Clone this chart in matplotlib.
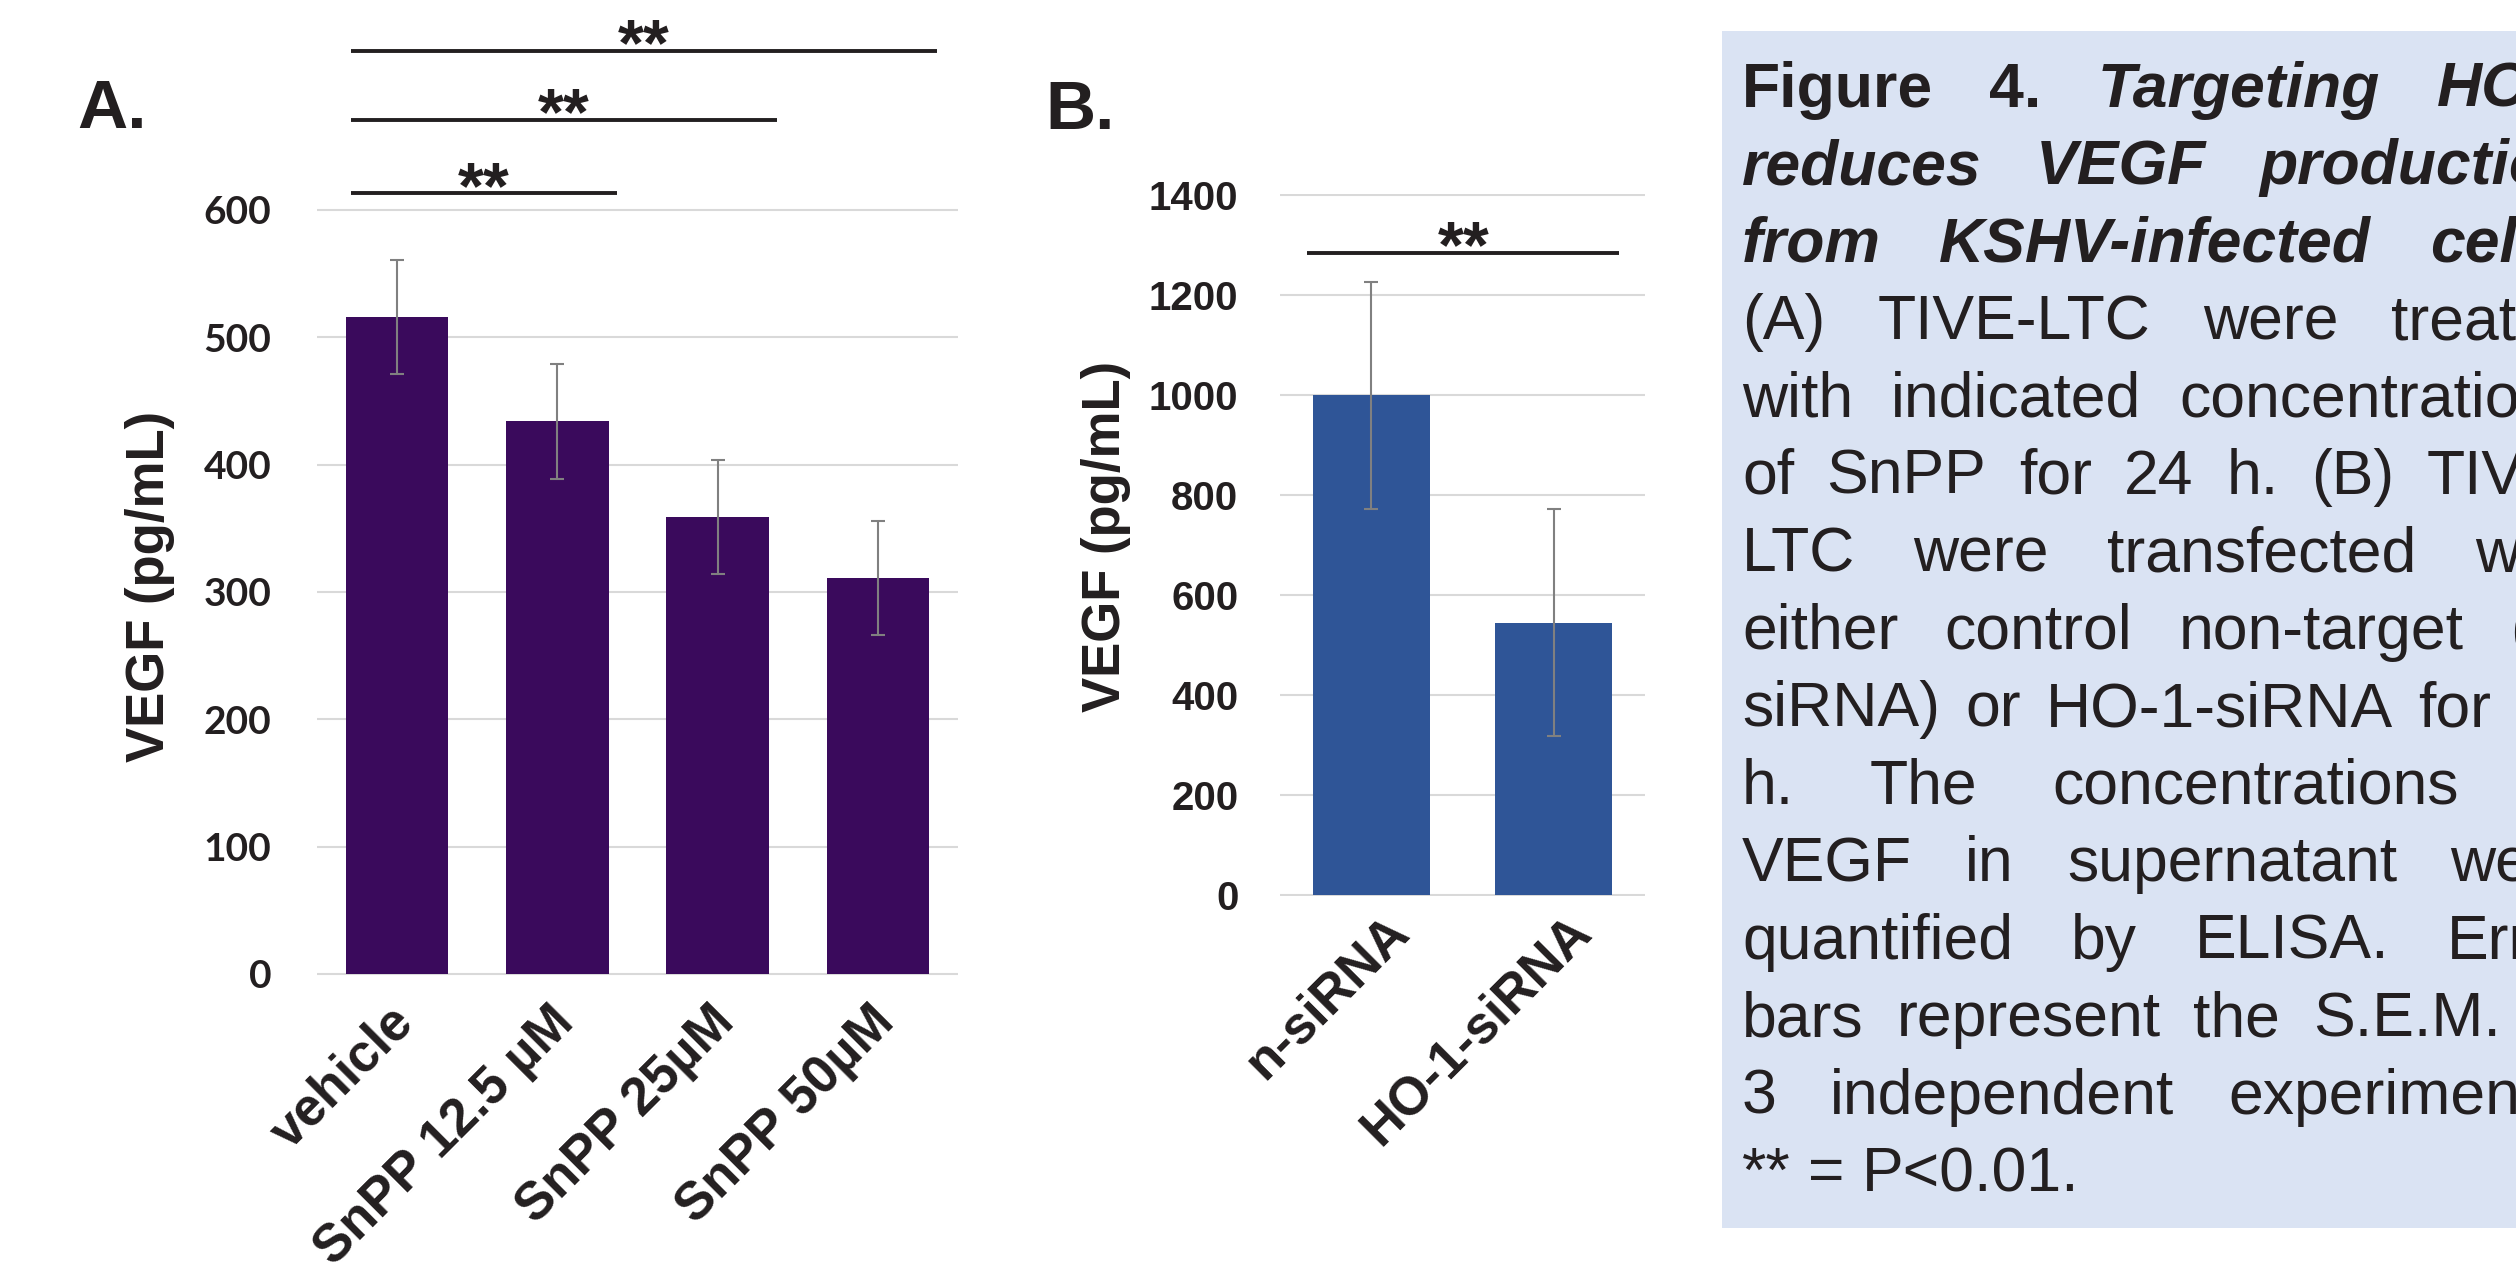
import numpy as np
import matplotlib.pyplot as plt
import matplotlib.transforms as mtransforms
from matplotlib.patches import Rectangle

# Figure size in pixels (saved at 100 dpi)
W, H = 2516, 1271
DPI = 100

# Panel A: SnPP treatment
a_labels = ['vehicle', 'SnPP 12.5 µM', 'SnPP 25µM', 'SnPP 50µM']
a_vegf = [516, 434, 359, 311]
a_sem = [45, 45, 45, 45]
a_pairs = [(0, 1), (0, 2), (0, 3)]
a_pair_y = [613, 671, 725]
a_ticks = [0, 100, 200, 300, 400, 500, 600]

# Panel B: siRNA knockdown
b_labels = ['n-siRNA', 'HO-1-siRNA']
b_vegf = [1000, 545]
b_sem = [227, 227]
b_pairs = [(0, 1)]
b_pair_y = [1285]
b_ticks = [0, 200, 400, 600, 800, 1000, 1200, 1400]

# Caption text
cap_lines = [
    "Figure 4. Targeting HO-1",
    "reduces VEGF production",
    "from KSHV-infected cells.",
    "(A) TIVE-LTC were treated",
    "with indicated concentrations",
    "of SnPP for 24 h. (B) TIVE-",
    "LTC were transfected with",
    "either control non-target (n-",
    "siRNA) or HO-1-siRNA for 24",
    "h. The concentrations of",
    "VEGF in supernatant were",
    "quantified by ELISA. Error",
    "bars represent the S.E.M. of",
    "3 independent experiments.",
    "** = P<0.01.",
]

ink = '#231f20'
grid_c = '#d9d9d9'
err_c = '#808080'
arial = 'Liberation Sans'

fig = plt.figure(figsize=(W / DPI, H / DPI), dpi=DPI)


def fx(x):
    return x / W


def fy(y):
    return 1 - y / H


def bar_panel(left, right, y0_px, ytop_px, ymax, labels, vals, sem, color,
              ticks, tick_font, tick_size, tick_pad, lab_off, pairs, pair_y,
              over_l, over_r):
    ppu = (y0_px - ytop_px) / ymax
    pad_u = 2.0
    ax = fig.add_axes([fx(left), fy(y0_px + pad_u * ppu), (right - left) / W,
                       (y0_px - ytop_px + 2 * pad_u * ppu) / H])
    x = np.arange(len(vals))
    ax.bar(x, vals, width=0.64, color=color, zorder=2,
           yerr=sem, error_kw=dict(ecolor=err_c, elinewidth=1.5, capsize=5,
                                   capthick=1.5, zorder=3))
    ax.set_xlim(-0.5, len(vals) - 0.5)
    ax.set_ylim(-pad_u, ymax + pad_u)
    ax.set_yticks(ticks)
    ax.set_yticklabels([str(t) for t in ticks], fontfamily=tick_font,
                       fontweight='bold', fontsize=tick_size, color=ink)
    ax.tick_params(axis='y', length=0, pad=tick_pad)
    ax.set_xticks([])
    for s in ax.spines.values():
        s.set_visible(False)
    ax.grid(axis='y', color=grid_c, linewidth=1.5, zorder=0)
    ax.set_axisbelow(True)

    # rotated category labels
    off = mtransforms.ScaledTranslation(lab_off[0] / DPI, -lab_off[1] / DPI,
                                        fig.dpi_scale_trans)
    trans = ax.get_xaxis_transform() + off
    for i, lab in enumerate(labels):
        ax.text(i, 0, lab, transform=trans, rotation=45, rotation_mode='anchor',
                ha='right', va='top', fontsize=38, fontweight='bold',
                fontfamily=arial, color=ink)

    # significance bars
    for (i, j), yv in zip(pairs, pair_y):
        x0, x1 = i - over_l, j + over_r
        ax.plot([x0, x1], [yv, yv], color=ink, lw=2.8, clip_on=False,
                solid_capstyle='butt')
        ax.annotate('**', xy=((x0 + x1) / 2, yv), xytext=(0, -10.5),
                    textcoords='offset points', ha='center', va='baseline',
                    fontsize=48, fontweight='bold', fontfamily=arial,
                    color=ink, annotation_clip=False)
    return ax


ax_a = bar_panel(317, 958, 974, 210, 600, a_labels, a_vegf, a_sem, '#3a0a5c',
                 a_ticks, 'Lato', 28, 33, (-9, 20), a_pairs, a_pair_y, 0.29, 0.37)
ax_b = bar_panel(1280, 1645, 895, 195, 1400, b_labels, b_vegf, b_sem, '#2f5597',
                 b_ticks, arial, 29, 30, (12, 10), b_pairs, b_pair_y, 0.35, 0.36)

# axis titles and panel letters
fig.text(fx(150), fy(586), 'VEGF (pg/mL)', rotation=90, ha='center', va='center',
         fontsize=38, fontweight='bold', fontfamily=arial, color=ink)
fig.text(fx(1106), fy(536), 'VEGF (pg/mL)', rotation=90, ha='center', va='center',
         fontsize=38, fontweight='bold', fontfamily=arial, color=ink)
fig.text(fx(77), fy(128), 'A.', ha='left', va='baseline', fontsize=50,
         fontweight='bold', fontfamily=arial, color=ink)
fig.text(fx(1045), fy(129), 'B.', ha='left', va='baseline', fontsize=50,
         fontweight='bold', fontfamily=arial, color=ink)

# caption box
fig.patches.append(Rectangle((fx(1722), fy(1228)), (W - 1722 + 50) / W,
                             (1228 - 31) / H, transform=fig.transFigure,
                             facecolor='#dae3f3', edgecolor='none', zorder=0))

cap_size = 45
cap_left, cap_right = 1742, 2586
cap_base0, cap_step = 106.7, 77.45
space_w = 0.278 * cap_size * DPI / 72
renderer = fig.canvas.get_renderer()

for k, line in enumerate(cap_lines):
    words = line.split(' ')
    texts = []
    for j, w in enumerate(words):
        weight = 'bold' if k < 3 else 'normal'
        style = 'italic' if (k < 3 and not (k == 0 and j < 2)) else 'normal'
        t = fig.text(0, fy(cap_base0 + k * cap_step), w, ha='left', va='baseline',
                     fontsize=cap_size, fontweight=weight, fontstyle=style,
                     fontfamily=arial, color=ink)
        texts.append(t)
    widths = [t.get_window_extent(renderer).width for t in texts]
    if k == len(cap_lines) - 1 or len(words) == 1:
        gap = space_w
    else:
        gap = (cap_right - cap_left - sum(widths)) / (len(words) - 1)
    xpos = cap_left
    for t, wd in zip(texts, widths):
        t.set_x(fx(xpos))
        xpos += wd + gap

fig.savefig('out.png', dpi=DPI, facecolor='white')
